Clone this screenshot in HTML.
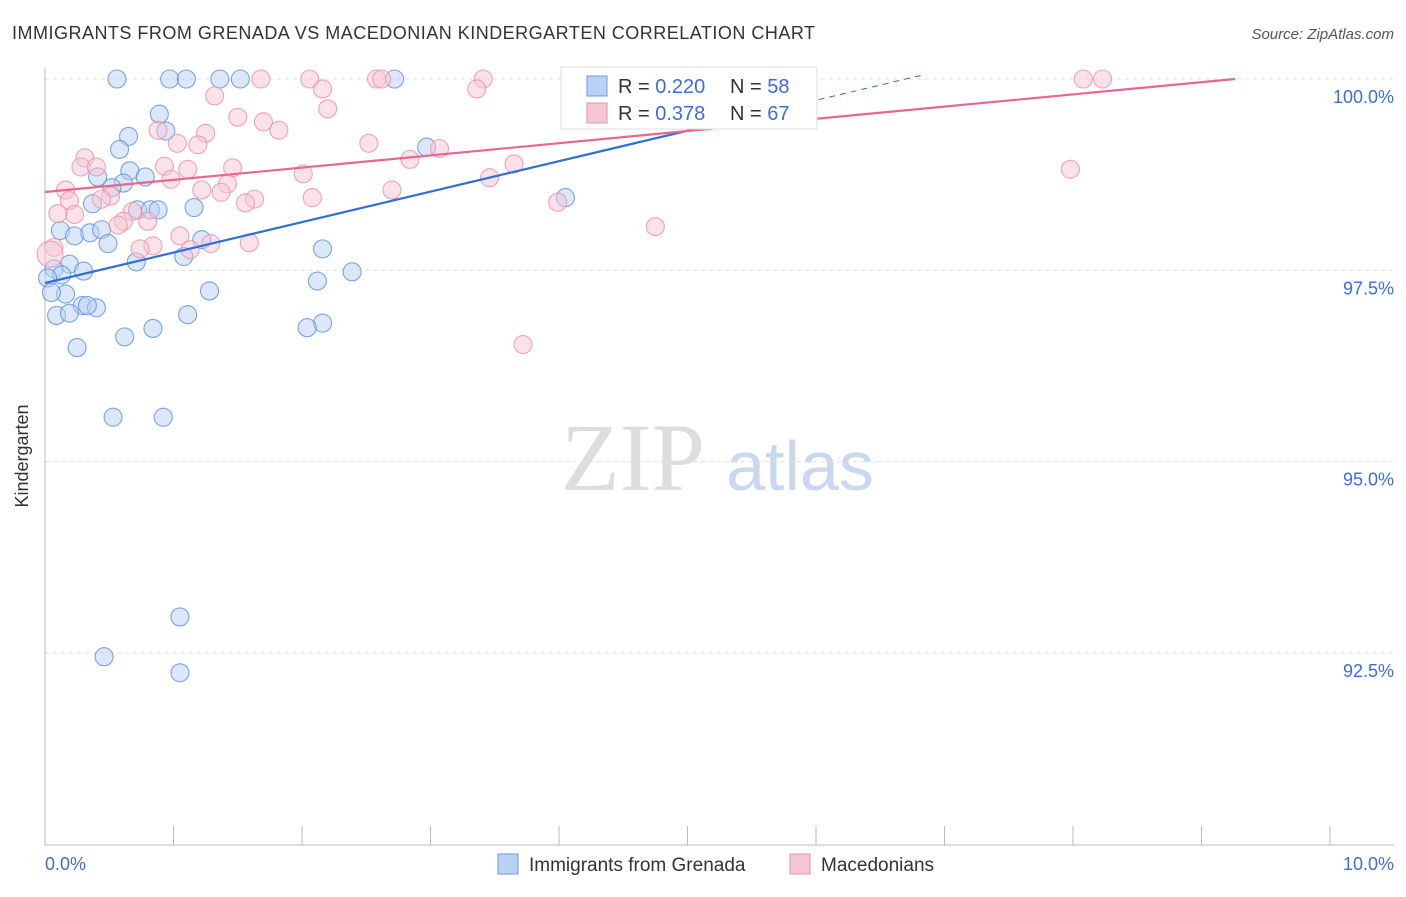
<!DOCTYPE html>
<html><head><meta charset="utf-8"><style>
body{margin:0;background:#fff;font-family:"Liberation Sans",sans-serif;}
</style></head><body>
<svg width="1406" height="892" xmlns="http://www.w3.org/2000/svg" id="svg" font-family="Liberation Sans, sans-serif">
<text x="12" y="39" font-size="18" fill="#333" textLength="803">IMMIGRANTS FROM GRENADA VS MACEDONIAN KINDERGARTEN CORRELATION CHART</text>
<text x="1394" y="39" font-size="15" fill="#555" font-style="italic" text-anchor="end">Source: ZipAtlas.com</text>
<g><text x="633" y="490" font-size="96" fill="#ddd" text-anchor="middle" font-family="Liberation Serif, serif">ZIP</text><text x="800" y="490" font-size="70" fill="#c9d8ef" text-anchor="middle">atlas</text></g>
<g id="grid"></g><g id="axes"></g><g id="pts"></g><g id="lines"></g>
<text x="28" y="456" font-size="18" fill="#333" text-anchor="middle" transform="rotate(-90 28 456)">Kindergarten</text>
<text x="45" y="870" font-size="18" fill="#3d6fd1">0.0%</text>
<text x="1394" y="870" font-size="18" fill="#3d6fd1" text-anchor="end">10.0%</text>
<g>
<rect x="561" y="67" width="256" height="62" fill="#fff" stroke="#ddd"/>
<rect x="587" y="76" width="20" height="20" fill="#b9d2f3" stroke="#6a9be0"/>
<text x="618" y="93" font-size="20" fill="#333">R = <tspan fill="#3d6fd1">0.220</tspan></text>
<text x="730" y="93" font-size="20" fill="#333">N = <tspan fill="#3d6fd1">58</tspan></text>
<rect x="587" y="103" width="20" height="20" fill="#f7c6d4" stroke="#e890ab"/>
<text x="618" y="120" font-size="20" fill="#333">R = <tspan fill="#3d6fd1">0.378</tspan></text>
<text x="730" y="120" font-size="20" fill="#333">N = <tspan fill="#3d6fd1">67</tspan></text>
</g>
<g>
<rect x="498" y="854" width="20" height="20" fill="#b9d2f3" stroke="#6a9be0"/>
<text x="529" y="871" font-size="19" fill="#333">Immigrants from Grenada</text>
<rect x="790" y="854" width="20" height="20" fill="#f7c6d4" stroke="#e890ab"/>
<text x="821" y="871" font-size="19" fill="#333">Macedonians</text>
</g>
</svg>
<script>
const yTicks=[100,97.5,95,92.5];
const yTickLabels=["100.0%","97.5%","95.0%","92.5%"];
const xTicks=[0,1,2,3,4,5,6,7,8,9,10];
const blueX=[0.56,0.97,1.10,1.36,1.52,2.72,0.89,0.94,0.65,0.58,2.97,0.66,0.78,0.41,0.61,0.52,0.37,0.72,0.82,0.88,1.16,4.05,0.12,0.23,0.35,0.44,0.49,1.22,2.16,1.08,0.71,0.19,0.07,0.30,0.13,2.39,0.02,2.12,1.28,0.16,0.05,0.29,0.40,0.33,0.09,0.19,1.11,2.16,2.04,0.84,0.62,0.25,0.53,0.92,1.05,1.05,0.46,4.75];
const blueY=[100,100,100,100,100,100,99.54,99.32,99.25,99.08,99.11,98.80,98.72,98.72,98.64,98.58,98.37,98.29,98.29,98.29,98.32,98.45,98.02,97.95,97.99,98.03,97.85,97.90,97.78,97.68,97.61,97.58,97.52,97.49,97.44,97.48,97.40,97.36,97.23,97.19,97.21,97.04,97.01,97.04,96.91,96.94,96.92,96.81,96.75,96.74,96.63,96.49,95.58,95.58,92.97,92.24,92.45,99.76];
const pinkX=[1.68,2.06,2.58,2.62,3.41,4.15,8.08,8.23,1.32,2.16,3.36,2.20,1.50,1.70,1.82,0.88,1.25,1.03,1.19,2.52,3.07,2.84,0.31,0.28,0.40,0.93,1.11,1.46,2.01,3.65,7.98,0.98,3.46,1.42,0.16,1.22,1.37,2.70,0.51,0.44,0.19,1.63,2.08,1.56,3.99,0.23,0.10,0.68,0.61,0.57,0.80,1.05,4.75,1.59,1.29,0.84,0.74,1.13,0.07,0.04,3.72];
const pinkY=[100,100,100,100,100,100,100,100,99.78,99.87,99.87,99.61,99.50,99.44,99.33,99.33,99.29,99.16,99.14,99.16,99.09,98.95,98.97,98.85,98.85,98.86,98.82,98.84,98.76,98.89,98.82,98.69,98.71,98.63,98.55,98.55,98.52,98.55,98.47,98.43,98.41,98.43,98.45,98.38,98.39,98.23,98.24,98.27,98.14,98.09,98.14,97.95,98.07,97.86,97.85,97.82,97.78,97.77,97.80,97.71,96.53];
const blueLine=[0,97.334,0.398];
const pinkLine=[0,98.523,0.1595];
const NS='http://www.w3.org/2000/svg';
const X=v=>45+v*128.5, Y=v=>79+(100-v)*76.52;
function mk(t,a,p){const e=document.createElementNS(NS,t);for(const k in a)e.setAttribute(k,a[k]);document.getElementById(p).appendChild(e);return e;}
yTicks.forEach((t,i)=>{
 const l=mk('line',{x1:45,x2:1394,y1:Y(t),y2:Y(t),stroke:'#ddd','stroke-dasharray':'4,4'},'grid');
 
 
 const tx=mk('text',{x:1394,y:Y(t)+24,'font-size':18,fill:'#3d6fd1','text-anchor':'end'},'grid');
 tx.textContent=yTickLabels[i];
 
 
});
let a=mk('line',{x1:45,x2:45,y1:68,y2:845,stroke:'#bbb'},'axes');


a=mk('line',{x1:45,x2:1394,y1:845,y2:845,stroke:'#bbb'},'axes');


xTicks.forEach(t=>{const l=mk('line',{x1:X(t),x2:X(t),y1:826,y2:845,stroke:'#bbb'},'axes');
 
 });
function pts(xs,ys,fill,stroke,name){xs.forEach((x,i)=>{const big=(x<0.12&&name=='pink-point'&&ys[i]<97.75);
 const c=mk('circle',{cx:X(x),cy:Y(ys[i]),r:big?13:9,fill:fill,'fill-opacity':0.5,stroke:stroke,'stroke-opacity':0.8,'stroke-width':1.1},'pts');
 
 });}
pts(blueX,blueY,'#b9d2f3','#5b8fdc','blue-point');
pts(pinkX,pinkY,'#f7c6d4','#e890ab','pink-point');
function ln(p,x1,x2,col,dash,name){const l=mk('line',{x1:X(x1),x2:X(x2),y1:Y(p[1]+p[2]*x1),y2:Y(p[1]+p[2]*x2),stroke:col,'stroke-width':dash?1:2.2},'lines');
 if(dash)l.setAttribute('stroke-dasharray','6,5');
 
 }
ln(blueLine,0,5.02,'#2f6fd6',false,'blue-trend-line');
ln(blueLine,5.02,6.85,'#2f6fd6',true,'blue-trend-extension');
ln(pinkLine,0,9.26,'#e8668f',false,'pink-trend-line');
</script>
</body></html>
